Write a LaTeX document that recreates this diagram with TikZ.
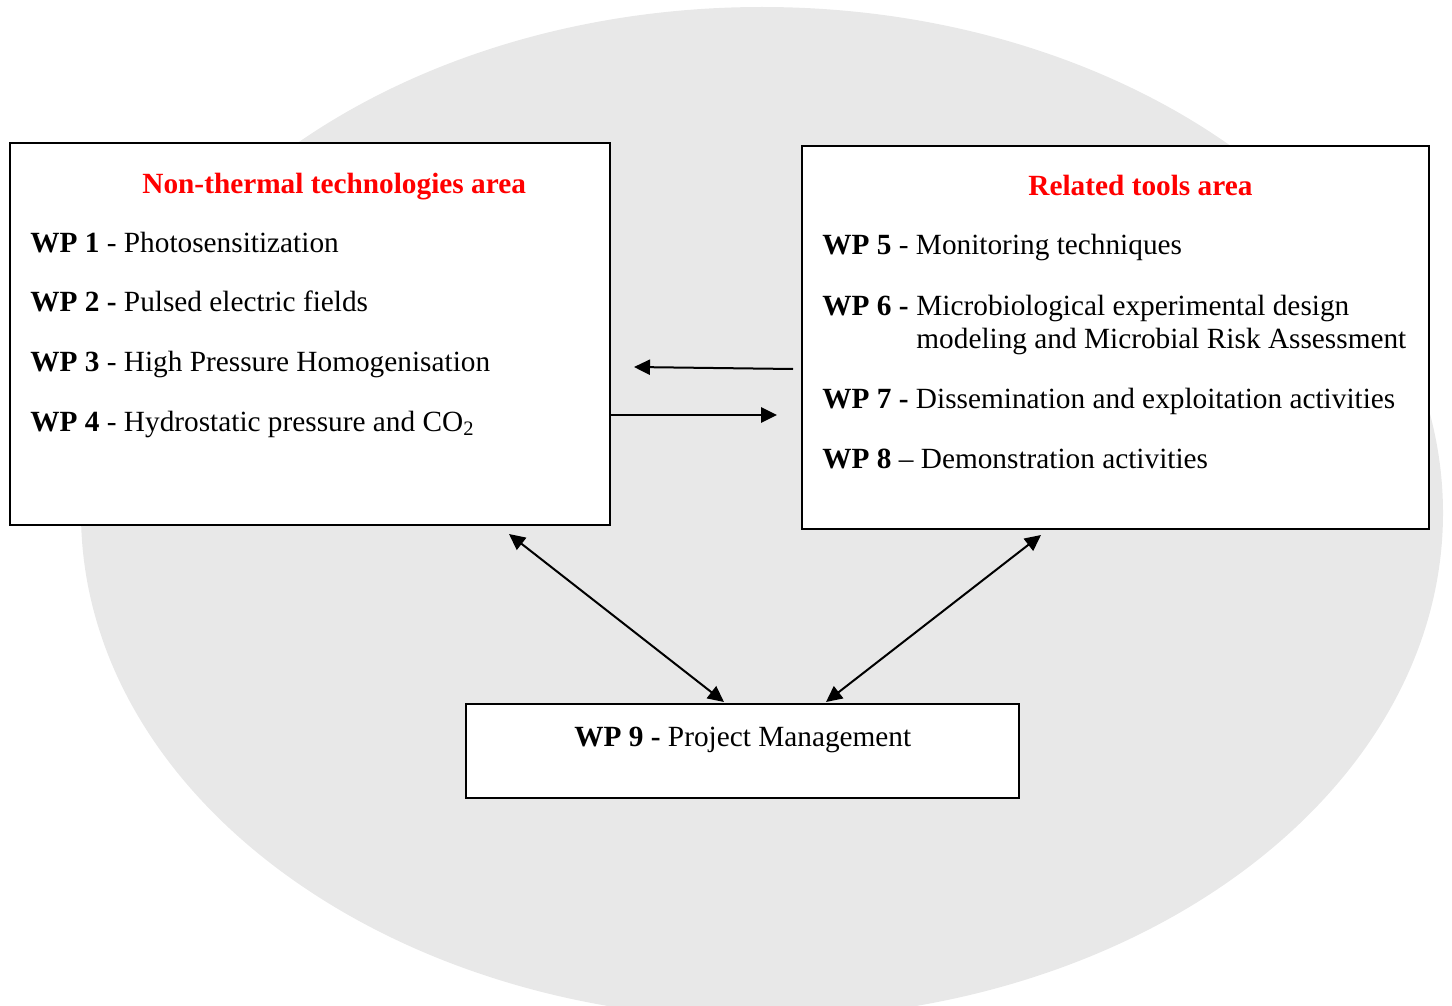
\documentclass[tikz,border=0pt]{standalone}
\usepackage{fontspec}
\setmainfont{Liberation Serif}
\usetikzlibrary{arrows.meta}
\definecolor{ellgray}{RGB}{232,232,232}
\definecolor{titlered}{RGB}{255,0,0}
\begin{document}
\begin{tikzpicture}[x=0.5pt,y=-0.5pt,
  every node/.style={font=\fontsize{14.65}{17}\selectfont},
  area/.style={draw=black,line width=1pt,fill=white,inner sep=0pt,anchor=north west},
  txt/.style={anchor=base west,inner sep=0pt},
  title/.style={txt,text=titlered,font=\fontsize{14.65}{17}\selectfont\bfseries},
  conn/.style={line width=1pt,-{Triangle[length=8pt,width=7.6pt]}},
  biconn/.style={line width=1pt,{Triangle[length=8pt,width=7.6pt]}-{Triangle[length=8pt,width=7.6pt]}}
]
\useasboundingbox (0,0) rectangle (1452,1006);
% background ellipse
\fill[ellgray] (762,513) ellipse [x radius=681, y radius=506];

% area boxes
\node[area,minimum width=300pt,minimum height=191pt] (L) at (9,142) {};
\node[area,minimum width=313.5pt,minimum height=191.5pt] (R) at (801,145) {};
\node[area,minimum width=276.5pt,minimum height=47pt] (B) at (465,703) {};

% left box contents
\node[title] (Lt) at (142,193) {Non-thermal technologies area};
\node[txt] (w1) at (30,252) {\textbf{WP 1} - Photosensitization};
\node[txt] (w2) at (30,311) {\textbf{WP 2 -} Pulsed electric fields};
\node[txt] (w3) at (30,371) {\textbf{WP 3} - High Pressure Homogenisation};
\node[txt] (w4) at (30,431) {\textbf{WP 4} - Hydrostatic pressure and CO\textsubscript{2}};

% right box contents
\node[title] (Rt) at (1028,196) {Related tools area};
\node[txt] (w5) at (822,255) {\textbf{WP 5} - Monitoring techniques};
\node[txt] (w6) at (822,315) {\textbf{WP 6 -}};
\node[txt] (w6a) at (916,315) {Microbiological experimental design};
\node[txt] (w6b) at (916,348) {modeling and Microbial Risk Assessment};
\node[txt] (w7) at (822,408) {\textbf{WP 7 -} Dissemination and exploitation activities};
\node[txt] (w8) at (822,468) {\textbf{WP 8} – Demonstration activities};

% bottom box contents
\node[txt] (w9) at (574,746) {\textbf{WP 9 -} Project Management};

% connector end points
\coordinate (h1s) at (793,369);
\coordinate (h1e) at (634,367);
\coordinate (h2s) at (609,415);
\coordinate (h2e) at (777,415);
\coordinate (d1s) at (509,534);
\coordinate (d1e) at (724,702);
\coordinate (d2s) at (1041,535);
\coordinate (d2e) at (826,702);

% connectors
\draw[conn] (h1s) -- (h1e);
\draw[conn] (h2s) -- (h2e);
\draw[biconn] (d1s) -- (d1e);
\draw[biconn] (d2s) -- (d2e);
\end{tikzpicture}
\end{document}
